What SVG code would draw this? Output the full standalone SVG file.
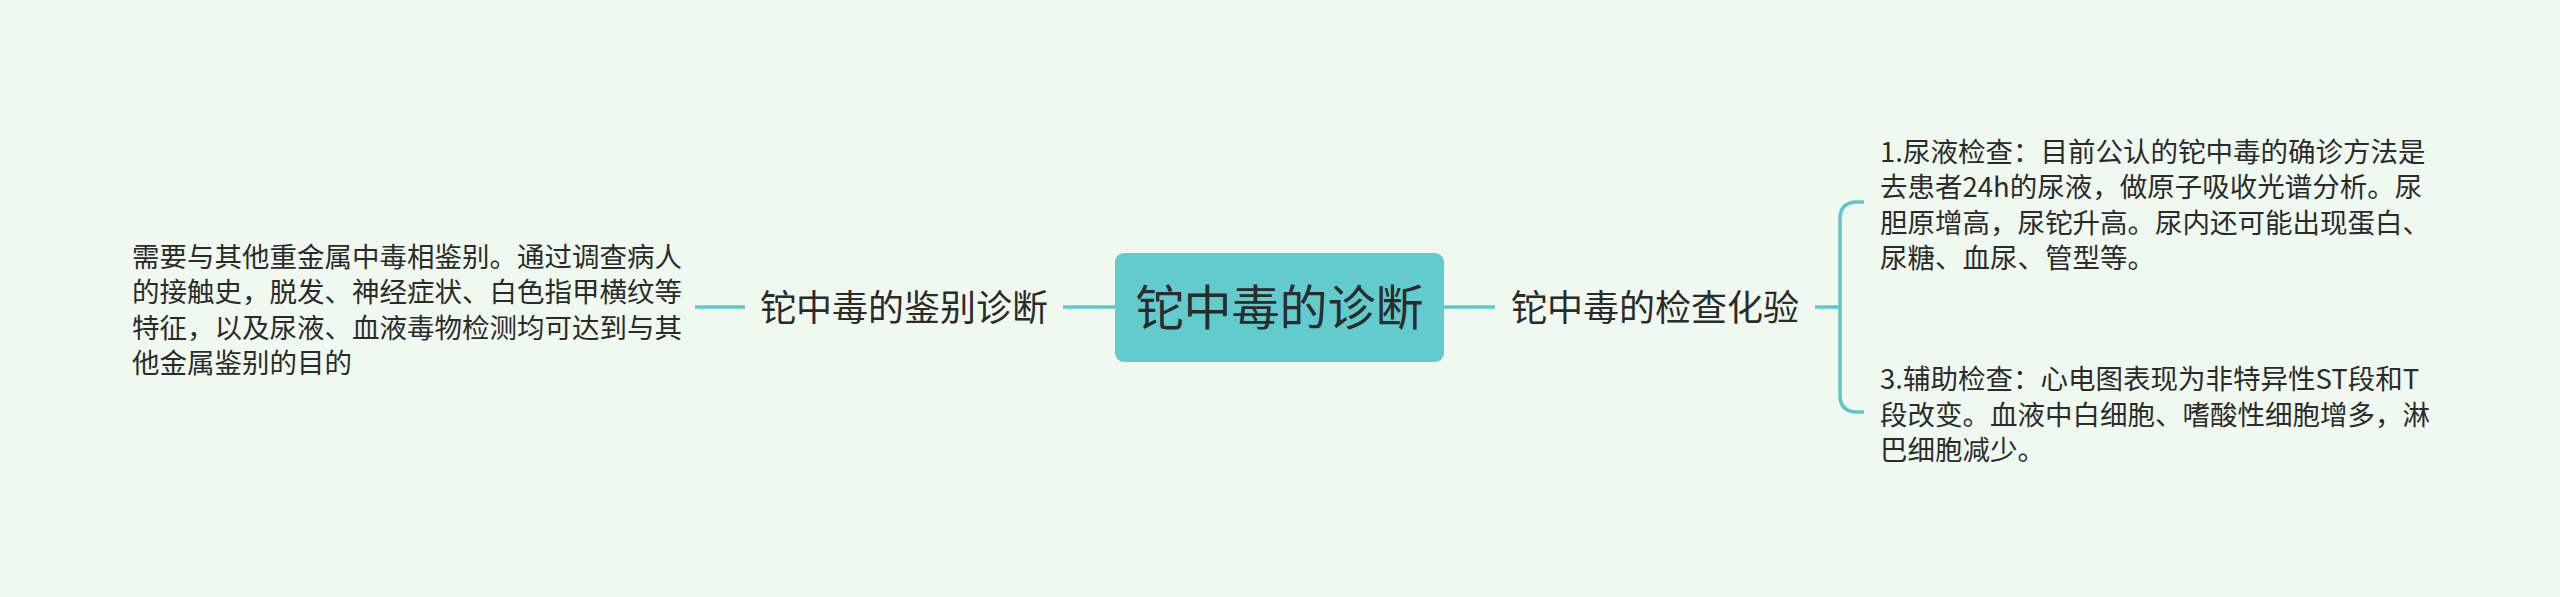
<svg xmlns="http://www.w3.org/2000/svg" width="2560" height="597" viewBox="0 0 2560 597">
<style>
.bg{fill:#f0f9ef}
.t{font-family:"Noto Sans CJK SC","Noto Sans",sans-serif;fill:#2b2b2b}
.sm{font-size:27.5px}
.md{font-size:36px}
.lg{font-size:48px}
.ln{fill:none;stroke:#5fc7cb;stroke-width:3.5;stroke-linecap:butt}
</style>
<rect class="bg" x="0" y="0" width="2560" height="597"/>
<g id="connectors">
<path class="ln" d="M695,307 H745"/>
<path class="ln" d="M1063,307 H1115"/>
<path class="ln" d="M1444,307 H1495"/>
<path class="ln" d="M1815,307 H1840"/>
<path class="ln" d="M1864,202 H1857 Q1840,202 1840,219 V395 Q1840,412 1857,412 H1864"/>
</g>
<g id="root">
<rect x="1115" y="253" width="329" height="109" rx="9" fill="#62cbcd"/>
<text class="t lg" x="1279.5" y="325" text-anchor="middle">铊中毒的诊断</text>
</g>
<g id="n-left">
<text class="t md" x="904" y="320.5" text-anchor="middle">铊中毒的鉴别诊断</text>
</g>
<g id="n-left-detail">
<text class="t sm" x="132"><tspan x="132" y="266.5">需要与其他重金属中毒相鉴别。通过调查病人</tspan><tspan x="132" y="302">的接触史，脱发、神经症状、白色指甲横纹等</tspan><tspan x="132" y="337.5">特征，以及尿液、血液毒物检测均可达到与其</tspan><tspan x="132" y="373">他金属鉴别的目的</tspan></text>
</g>
<g id="n-right">
<text class="t md" x="1655" y="320.5" text-anchor="middle">铊中毒的检查化验</text>
</g>
<g id="n-right-1">
<text class="t sm" x="1880"><tspan x="1880" y="161.5">1.尿液检查：目前公认的铊中毒的确诊方法是</tspan><tspan x="1880" y="197">去患者24h的尿液，做原子吸收光谱分析。尿</tspan><tspan x="1880" y="232.5">胆原增高，尿铊升高。尿内还可能出现蛋白、</tspan><tspan x="1880" y="268">尿糖、血尿、管型等。</tspan></text>
</g>
<g id="n-right-3">
<text class="t sm" x="1880"><tspan x="1880" y="389">3.辅助检查：心电图表现为非特异性ST段和T</tspan><tspan x="1880" y="424.5">段改变。血液中白细胞、嗜酸性细胞增多，淋</tspan><tspan x="1880" y="460">巴细胞减少。</tspan></text>
</g>
</svg>
